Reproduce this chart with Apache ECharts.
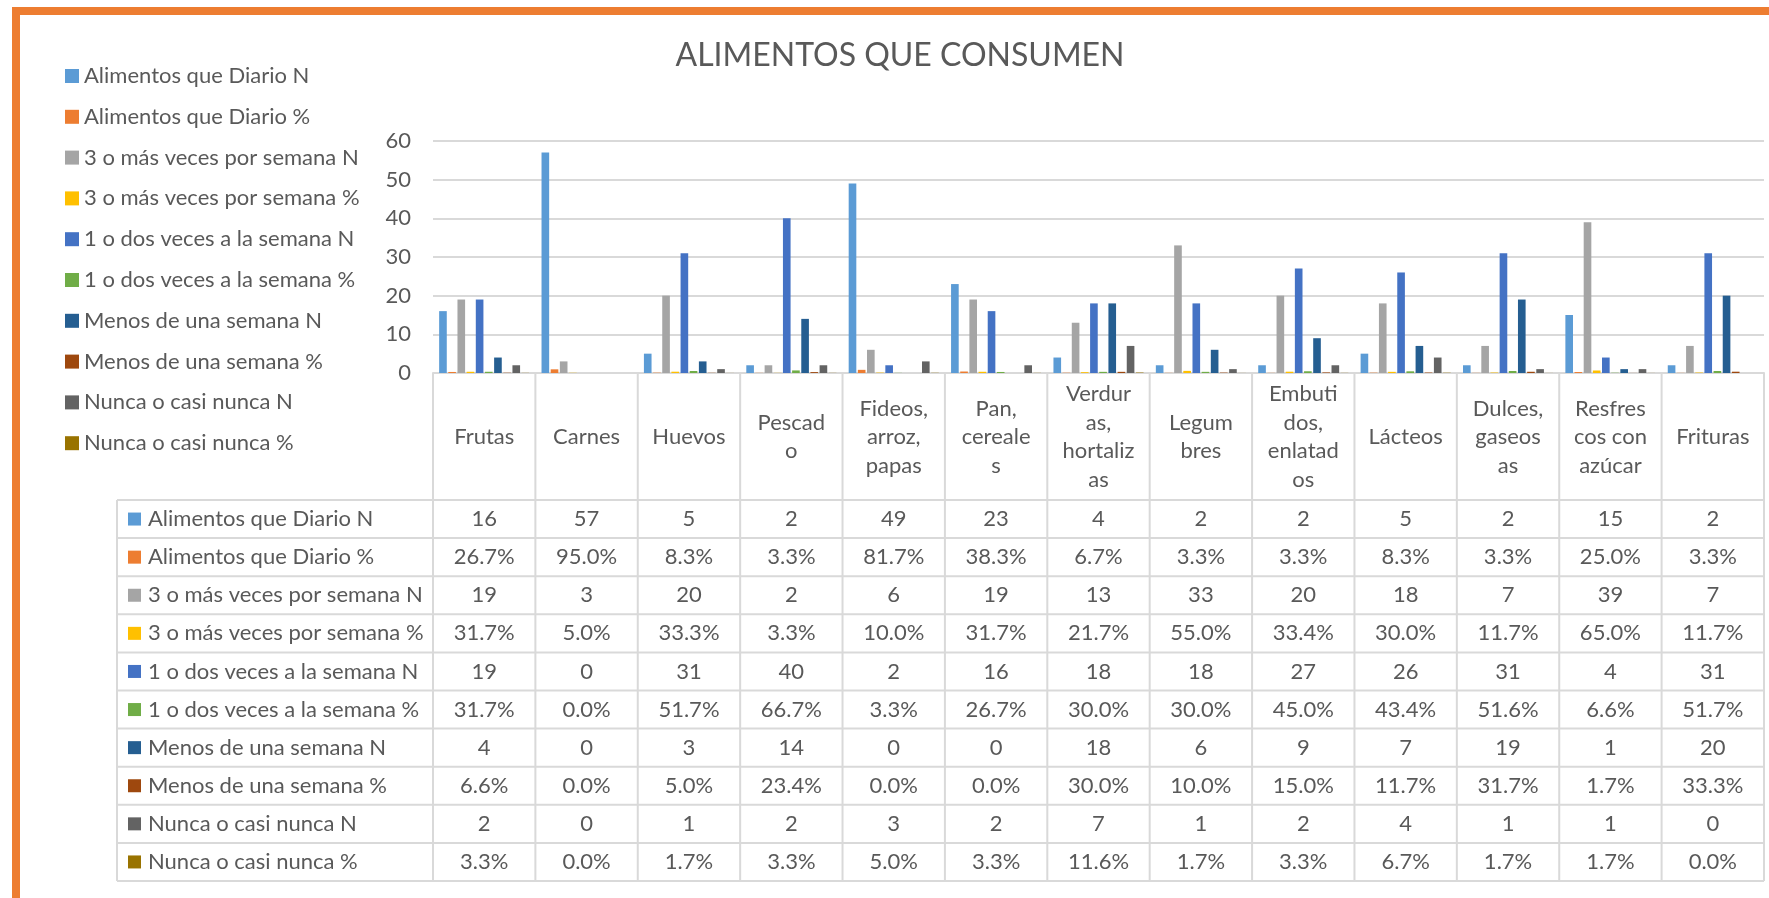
<!DOCTYPE html>
<html>
<head>
<meta charset="utf-8">
<title>Alimentos que consumen</title>
<script src="https://cdn.jsdelivr.net/npm/echarts@6/dist/echarts.min.js"></script>
<style>
  html, body { margin: 0; padding: 0; background: #fff; }
  #chart { width: 1769px; height: 898px; }
</style>
</head>
<body>
<div id="chart"></div>
<script>
// categorias (eje x) y etiquetas partidas como en Excel
var categorias = ['Frutas', 'Carnes', 'Huevos', 'Pescado', 'Fideos, arroz, papas', 'Pan, cereales',
  'Verduras, hortalizas', 'Legumbres', 'Embutidos, enlatados', 'Lácteos', 'Dulces, gaseosas',
  'Resfrescos con azúcar', 'Frituras'];
var etiquetas = ['Frutas', 'Carnes', 'Huevos', 'Pescad\no', 'Fideos,\narroz,\npapas', 'Pan,\ncereale\ns',
  'Verdur\nas,\nhortaliz\nas', 'Legum\nbres', 'Embuti\ndos,\nenlatad\nos', 'Lácteos', 'Dulces,\ngaseos\nas',
  'Resfres\ncos con\nazúcar', 'Frituras'];

// datos de la tabla
var diarioN = [16, 57, 5, 2, 49, 23, 4, 2, 2, 5, 2, 15, 2];
var diarioP = [26.7, 95.0, 8.3, 3.3, 81.7, 38.3, 6.7, 3.3, 3.3, 8.3, 3.3, 25.0, 3.3];
var tresN = [19, 3, 20, 2, 6, 19, 13, 33, 20, 18, 7, 39, 7];
var tresP = [31.7, 5.0, 33.3, 3.3, 10.0, 31.7, 21.7, 55.0, 33.4, 30.0, 11.7, 65.0, 11.7];
var unoN = [19, 0, 31, 40, 2, 16, 18, 18, 27, 26, 31, 4, 31];
var unoP = [31.7, 0.0, 51.7, 66.7, 3.3, 26.7, 30.0, 30.0, 45.0, 43.4, 51.6, 6.6, 51.7];
var menosN = [4, 0, 3, 14, 0, 0, 18, 6, 9, 7, 19, 1, 20];
var menosP = [6.6, 0.0, 5.0, 23.4, 0.0, 0.0, 30.0, 10.0, 15.0, 11.7, 31.7, 1.7, 33.3];
var nuncaN = [2, 0, 1, 2, 3, 2, 7, 1, 2, 4, 1, 1, 0];
var nuncaP = [3.3, 0.0, 1.7, 3.3, 5.0, 3.3, 11.6, 1.7, 3.3, 6.7, 1.7, 1.7, 0.0];

var nombres = ['Alimentos que Diario N', 'Alimentos que Diario %', '3 o más veces por semana N',
  '3 o más veces por semana %', '1 o dos veces a la semana N', '1 o dos veces a la semana %',
  'Menos de una semana N', 'Menos de una semana %', 'Nunca o casi nunca N', 'Nunca o casi nunca %'];
var esPorcentaje = [false, true, false, true, false, true, false, true, false, true];
var filas = [diarioN, diarioP, tresN, tresP, unoN, unoP, menosN, menosP, nuncaN, nuncaP];
var yTicks = [0, 60, 10]; // min, max, intervalo

var colores = ['#5B9BD5', '#ED7D31', '#A5A5A5', '#FFC000', '#4472C4',
  '#70AD47', '#255E91', '#9E480E', '#636363', '#997300'];
var gris = '#595959';
var borde = '#d9d9d9';
var fuente = 'Lato, "Open Sans", sans-serif';

var chart = echarts.init(document.getElementById('chart'));

// los % se grafican como fraccion (igual que Excel)
var series = filas.map(function (fila, i) {
  return {
    name: nombres[i],
    type: 'bar',
    barGap: '20%',
    barCategoryGap: '12%',
    itemStyle: { color: colores[i] },
    data: fila.map(function (v) { return esPorcentaje[i] ? v / 100 : v; })
  };
});

var option = {
  animation: false,
  color: colores,
  textStyle: { fontFamily: fuente },
  legend: {
    orient: 'vertical',
    left: 65,
    top: 65,
    padding: 0,
    itemWidth: 14,
    itemHeight: 14,
    itemGap: 18.8,
    icon: 'rect',
    data: nombres,
    textStyle: { color: gris, fontSize: 22, lineHeight: 22, fontFamily: fuente }
  },
  grid: {
    left: 433,
    right: 5,
    top: 141,
    bottom: 525,
    outerBoundsMode: 'none'
  },
  xAxis: {
    type: 'category',
    data: categorias,
    axisLine: { lineStyle: { color: borde, width: 2 } },
    axisTick: { show: false },
    axisLabel: {
      interval: 0,
      margin: 64,
      verticalAlign: 'middle',
      lineHeight: 28.5,
      fontSize: 22,
      color: gris,
      fontFamily: fuente,
      formatter: function (v, i) { return etiquetas[i]; }
    }
  },
  yAxis: {
    type: 'value',
    min: yTicks[0],
    max: yTicks[1],
    interval: yTicks[2],
    axisLine: { show: false },
    axisTick: { show: false },
    splitLine: { lineStyle: { color: borde, width: 2 } },
    axisLabel: { fontSize: 22, color: gris, margin: 22, fontFamily: fuente }
  },
  series: series
};

chart.setOption(option);

// tabla de datos debajo del grafico
function dibujarTabla() {
  var xs = categorias.map(function (c, i) {
    return chart.convertToPixel({ xAxisIndex: 0 }, i);
  });
  var banda = xs[1] - xs[0];
  var izq = xs[0] - banda / 2;
  var der = xs[xs.length - 1] + banda / 2;
  var ejeY = chart.convertToPixel({ yAxisIndex: 0 }, 0);
  var topTabla = 500, altoFila = 38.1, izqTabla = 117;
  var els = [];

  // marco naranja
  els.push({
    type: 'rect', silent: true,
    shape: { x: 16, y: 11, width: 1800, height: 1000 },
    style: { fill: 'none', stroke: '#ED7D31', lineWidth: 8 }
  });
  // titulo
  els.push({
    type: 'text', silent: true,
    style: {
      text: 'ALIMENTOS QUE CONSUMEN', x: 900, y: 56,
      fill: gris, font: '32px ' + fuente,
      align: 'center', verticalAlign: 'middle',
      textAlign: 'center', textVerticalAlign: 'middle'
    }
  });

  // lineas verticales
  for (var k = 0; k <= categorias.length; k++) {
    var x = izq + k * banda;
    els.push({
      type: 'line', silent: true,
      shape: { x1: x, y1: ejeY, x2: x, y2: topTabla + altoFila * filas.length },
      style: { stroke: borde, lineWidth: 2 }
    });
  }
  els.push({
    type: 'line', silent: true,
    shape: { x1: izqTabla, y1: topTabla, x2: izqTabla, y2: topTabla + altoFila * filas.length },
    style: { stroke: borde, lineWidth: 2 }
  });
  // lineas horizontales
  for (var r = 0; r <= filas.length; r++) {
    var y = topTabla + r * altoFila;
    els.push({
      type: 'line', silent: true,
      shape: { x1: izqTabla, y1: y, x2: der, y2: y },
      style: { stroke: borde, lineWidth: 2 }
    });
  }

  filas.forEach(function (fila, i) {
    var yc = topTabla + altoFila * (i + 0.5);
    els.push({
      type: 'rect', silent: true,
      shape: { x: 128, y: yc - 6.5, width: 13, height: 13 },
      style: { fill: colores[i] }
    });
    els.push({
      type: 'text', silent: true,
      style: {
        text: nombres[i], x: 148, y: yc,
        fill: gris, font: '22px ' + fuente,
        align: 'left', verticalAlign: 'middle',
        textAlign: 'left', textVerticalAlign: 'middle'
      }
    });
    fila.forEach(function (v, j) {
      var txt = esPorcentaje[i] ? v.toFixed(1) + '%' : String(v);
      els.push({
        type: 'text', silent: true,
        style: {
          text: txt, x: xs[j], y: yc,
          fill: gris, font: '22px ' + fuente,
          align: 'center', verticalAlign: 'middle',
          textAlign: 'center', textVerticalAlign: 'middle'
        }
      });
    });
  });

  chart.setOption({ graphic: els });
}

dibujarTabla();
</script>
</body>
</html>
